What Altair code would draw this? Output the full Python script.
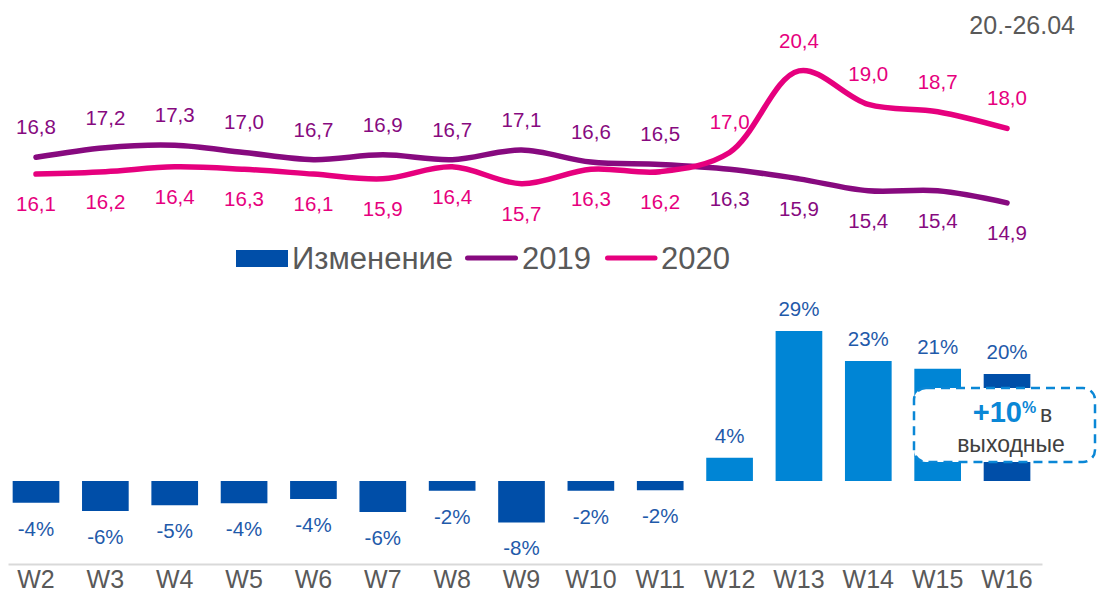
import altair as alt
import pandas as pd

FONT = "Liberation Sans"

weeks = ["W2", "W3", "W4", "W5", "W6", "W7", "W8", "W9", "W10", "W11",
         "W12", "W13", "W14", "W15", "W16"]
vals_2019 = [16.8, 17.2, 17.3, 17.0, 16.7, 16.9, 16.7, 17.1, 16.6, 16.5,
             16.3, 15.9, 15.4, 15.4, 14.9]
vals_2020 = [16.1, 16.2, 16.4, 16.3, 16.1, 15.9, 16.4, 15.7, 16.3, 16.2,
             17.0, 20.4, 19.0, 18.7, 18.0]
change_pct = [-4.2, -5.8, -4.7, -4.3, -3.5, -6.0, -1.9, -8.0, -1.9, -1.8,
              4.5, 29.0, 23.2, 21.7, 20.7]
change_labels = ["-4%", "-6%", "-5%", "-4%", "-4%", "-6%", "-2%", "-8%", "-2%", "-2%",
                 "4%", "29%", "23%", "21%", "20%"]
bar_tone = ["dark"] * 10 + ["light"] * 4 + ["dark"]
side_2019 = ["above"] * 10 + ["below"] * 5
side_2020 = ["below"] * 10 + ["above"] * 5

DARK = "#004EA8"
LIGHT = "#0085D5"
C2019 = "#870A7F"
C2020 = "#E6007E"
GRAY = "#595959"

bars_df = pd.DataFrame({"week": weeks, "change": change_pct,
                        "label": change_labels, "tone": bar_tone})

rows = []
for w, v, s in zip(weeks, vals_2019, side_2019):
    rows.append({"week": w, "series": "2019", "value": v,
                 "label": f"{v:.1f}".replace(".", ","), "side": s})
for w, v, s in zip(weeks, vals_2020, side_2020):
    rows.append({"week": w, "series": "2020", "value": v,
                 "label": f"{v:.1f}".replace(".", ","), "side": s})
lines_df = pd.DataFrame(rows)

x_enc = alt.X("week:N", sort=weeks,
              scale=alt.Scale(paddingInner=0.327, paddingOuter=0.1175, align=0.286),
              axis=alt.Axis(title=None, labelAngle=0, labelFontSize=25, labelColor=GRAY,
                            labelFont=FONT, ticks=False, tickSize=0,
                            domainColor="#D9D9D9", domainWidth=2,
                            labelPadding=3, grid=False))

y_bar = alt.Y("change:Q", scale=alt.Scale(domain=[-16.05, 91.5], nice=False, zero=False),
              axis=None)
y_line = alt.Y("value:Q", scale=alt.Scale(domain=[-0.15, 23.02], nice=False, zero=False),
               axis=None)

bar_base = alt.Chart(bars_df)
bars = bar_base.mark_bar().encode(
    x=x_enc, y=y_bar,
    color=alt.Color("tone:N", scale=alt.Scale(domain=["dark", "light"], range=[DARK, LIGHT]),
                    legend=None))
bar_lbl_pos = bar_base.mark_text(dy=-21, fontSize=20.5, font=FONT, color="#1F5AAA",
                                 baseline="middle").encode(
    x=x_enc, y=y_bar, text="label:N").transform_filter("datum.change > 0")
bar_lbl_neg = bar_base.mark_text(dy=27, fontSize=20.5, font=FONT, color="#1F5AAA",
                                 baseline="middle").encode(
    x=x_enc, y=y_bar, text="label:N").transform_filter("datum.change < 0")
bars_layer = alt.layer(bars, bar_lbl_pos, bar_lbl_neg)

col_enc = alt.Color("series:N", scale=alt.Scale(domain=["2019", "2020"], range=[C2019, C2020]),
                    legend=None)
line_base = alt.Chart(lines_df)
lines = line_base.mark_line(interpolate="catmull-rom", strokeWidth=5.5,
                            strokeCap="round").encode(x=x_enc, y=y_line, color=col_enc)
lbl_above = line_base.mark_text(dy=-29, fontSize=20.5, font=FONT, baseline="middle").encode(
    x=x_enc, y=y_line, text="label:N", color=col_enc).transform_filter("datum.side == 'above'")
lbl_below = line_base.mark_text(dy=31, fontSize=20.5, font=FONT, baseline="middle").encode(
    x=x_enc, y=y_line, text="label:N", color=col_enc).transform_filter("datum.side == 'below'")
lines_layer = alt.layer(lines, lbl_above, lbl_below)

one = pd.DataFrame({"k": [0]})
dc = alt.Chart(one)

# legend
leg_rect = dc.mark_rect(color=DARK).encode(
    x=alt.value(228), x2=alt.value(280), y=alt.value(242), y2=alt.value(259))
leg_t1 = dc.mark_text(text="Изменение", align="left", baseline="alphabetic", fontSize=31,
                      font=FONT, color=GRAY).encode(x=alt.value(284), y=alt.value(261))
leg_r1 = dc.mark_rule(color=C2019, strokeWidth=5, strokeCap="round").encode(
    x=alt.value(459.5), x2=alt.value(507.5), y=alt.value(250))
leg_t2 = dc.mark_text(text="2019", align="left", baseline="alphabetic", fontSize=31,
                      font=FONT, color=GRAY).encode(x=alt.value(514), y=alt.value(261))
leg_r2 = dc.mark_rule(color=C2020, strokeWidth=5, strokeCap="round").encode(
    x=alt.value(599.5), x2=alt.value(647), y=alt.value(250))
leg_t3 = dc.mark_text(text="2020", align="left", baseline="alphabetic", fontSize=31,
                      font=FONT, color=GRAY).encode(x=alt.value(653), y=alt.value(261))

# callout
box = dc.mark_rect(cornerRadius=12, fill="white", stroke="#0A87D6", strokeWidth=2.5,
                   strokeDash=[9, 6]).encode(
    x=alt.value(906), x2=alt.value(1087), y=alt.value(380), y2=alt.value(454))
t_plus = dc.mark_text(text="+10", align="right", baseline="alphabetic", fontSize=29,
                      fontWeight="bold", font=FONT, color="#0A87D6").encode(
    x=alt.value(1014), y=alt.value(414))
t_pct = dc.mark_text(text="%", align="left", baseline="alphabetic", fontSize=16,
                     fontWeight="bold", font=FONT, color="#0A87D6").encode(
    x=alt.value(1014), y=alt.value(405))
t_v = dc.mark_text(text="в", align="left", baseline="alphabetic", fontSize=23,
                   font=FONT, color="#404040").encode(x=alt.value(1032), y=alt.value(414))
t_vyh = dc.mark_text(text="выходные", align="center", baseline="alphabetic", fontSize=23,
                     font=FONT, color="#404040").encode(x=alt.value(1003), y=alt.value(444))

t_date = dc.mark_text(text="20.-26.04", align="right", baseline="alphabetic", fontSize=25,
                      font=FONT, color=GRAY).encode(x=alt.value(1067), y=alt.value(26))

chart = alt.layer(
    bars_layer, lines_layer,
    leg_rect, leg_t1, leg_r1, leg_t2, leg_r2, leg_t3,
    box, t_plus, t_pct, t_v, t_vyh, t_date
).resolve_scale(y="independent", color="independent").properties(
    width=1034, height=556,
    autosize=alt.AutoSizeParams(type="none"),
    padding={"left": 0, "top": 0, "right": 55, "bottom": 28},
).configure_view(stroke=None)

chart.save("out.html", embed_options={"renderer": "svg", "actions": False})
